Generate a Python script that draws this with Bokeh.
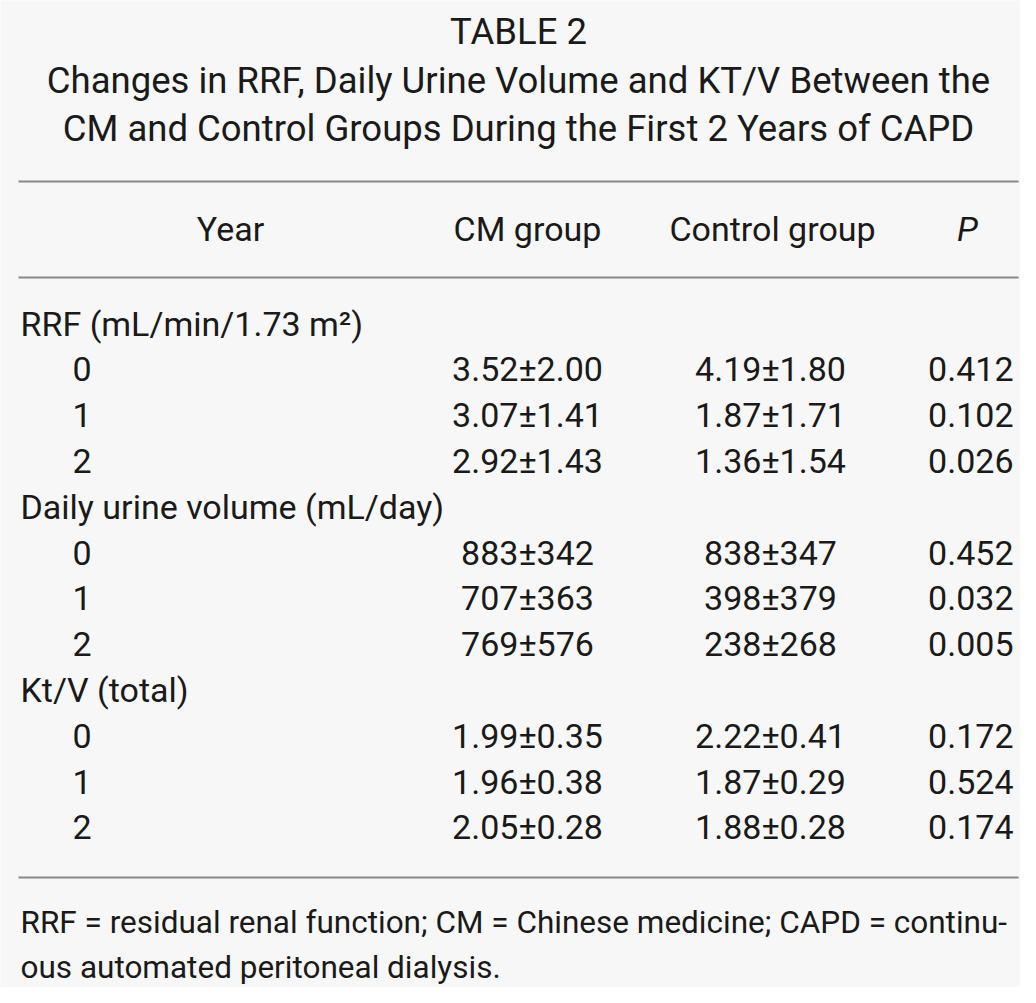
from bokeh.plotting import figure
from bokeh.models import Range1d
from bokeh.embed import file_html
from bokeh.resources import INLINE
from bokeh.core.properties import value

title_lines = ["TABLE 2",
               "Changes in RRF, Daily Urine Volume and KT/V Between the",
               "CM and Control Groups During the First 2 Years of CAPD"]
headers = ["Year", "CM group", "Control group", "P"]
sections = ["RRF (mL/min/1.73 m²)", "Daily urine volume (mL/day)", "Kt/V (total)"]
years = ["0", "1", "2"]
cm_group = [["3.52±2.00", "3.07±1.41", "2.92±1.43"],
            ["883±342", "707±363", "769±576"],
            ["1.99±0.35", "1.96±0.38", "2.05±0.28"]]
control_group = [["4.19±1.80", "1.87±1.71", "1.36±1.54"],
                 ["838±347", "398±379", "238±268"],
                 ["2.22±0.41", "1.87±0.29", "1.88±0.28"]]
p_values = [["0.412", "0.102", "0.026"],
            ["0.452", "0.032", "0.005"],
            ["0.172", "0.524", "0.174"]]
footnote = ["RRF = residual renal function; CM = Chinese medicine; CAPD = continu-",
            "ous automated peritoneal dialysis."]

W, H = 1020, 987
FONT = value("Roboto")
FS = "34px"
COLOR = "#1a1a1a"
BG = "#f7f7f7"

p = figure(width=W, height=H, output_backend="svg", toolbar_location=None,
           x_range=Range1d(0, W), y_range=Range1d(H, 0),
           min_border=0, background_fill_color=BG, border_fill_color=BG,
           outline_line_color=None)
p.axis.visible = False
p.grid.visible = False

def txt(x, y, t, align="left", style="normal", size=FS, font=FONT):
    p.text(x=[x], y=[y], text=[t], text_font=font, text_font_size=size,
           text_align=align, text_baseline="middle", text_color=COLOR,
           text_font_style=style)

# title
for t, y in zip(title_lines, [31, 80, 128]):
    txt(518, y, t, "center", size="36.5px")

# rules
for y in [181, 277, 877]:
    p.line(x=[18, 1018], y=[y, y], line_color="#888888", line_width=2)

# headers
hx = [230, 527, 772, 967]
for h, x in zip(headers, hx):
    txt(x, 228, h, "center", "italic" if h == "P" else "normal")

# body
y = 323
step = 45.8
for s, cms, cts, ps in zip(sections, cm_group, control_group, p_values):
    txt(20, y, s)
    y += step
    for yr, c, k, pv in zip(years, cms, cts, ps):
        txt(72, y, yr)
        txt(527, y, c, "center")
        txt(770, y, k, "center")
        txt(1013, y, pv, "right")
        y += step

# footnote
for t, yy in zip(footnote, [922, 967]):
    txt(20, yy, t, size="31.5px")

open("out.html", "w").write(file_html(p, INLINE))
